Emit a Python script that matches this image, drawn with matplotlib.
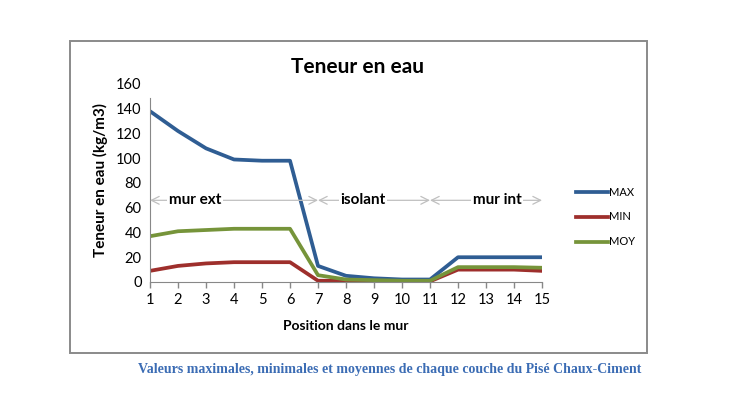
import matplotlib.pyplot as plt
from matplotlib.patches import Rectangle

plt.rcParams['font.family'] = ['Lato', 'DejaVu Sans']

# données
position = list(range(1, 16))
val_max = [138, 122, 108, 99, 98, 98, 13, 5, 3, 2, 2, 20, 20, 20, 20]
val_min = [9, 13, 15, 16, 16, 16, 1, 1, 0.5, 0.5, 0.5, 10, 10, 10, 9]
val_moy = [37, 41, 42, 43, 43, 43, 5.5, 2, 1.5, 1, 1, 12, 12, 12, 11.5]

couches = ["mur ext", "isolant", "mur int"]
limites = [1, 7, 11, 15]
pos_texte = [2.6, 8.6, 13.4]
y_fleche = 66

fig = plt.figure(figsize=(7.5, 3.96), dpi=100)
ax = fig.add_axes([0.2, 0.2879, 0.5227, 0.5])

ax.plot(position, val_max, color='#2f5d93', lw=2.7, label='MAX', solid_joinstyle='round')
ax.plot(position, val_min, color='#9e2f2c', lw=2.7, label='MIN', solid_joinstyle='round')
ax.plot(position, val_moy, color='#76943a', lw=2.7, label='MOY', solid_joinstyle='round')

# flèches des couches
for i in range(len(couches)):
    ax.annotate('', xy=(limites[i], y_fleche), xytext=(limites[i+1], y_fleche),
                arrowprops=dict(arrowstyle='<->', color='#c0c0c0', lw=0.9,
                                shrinkA=0, shrinkB=0, mutation_scale=14))
    ax.text(pos_texte[i], y_fleche, couches[i], ha='center', va='center',
            fontsize=11, fontweight='bold',
            bbox=dict(boxstyle='square,pad=0.1', fc='white', ec='none'))

ax.set_xlim(1, 15)
ax.set_ylim(0, 160)
ax.set_xticks(position)
ax.set_yticks(range(0, 161, 20))
ax.tick_params(axis='x', colors='#888888', length=4, width=1, labelcolor='black',
               labelsize=10.5, pad=4)
ax.tick_params(axis='y', length=0, labelsize=10.5, pad=6)
for s in ['top', 'right']:
    ax.spines[s].set_visible(False)
ax.spines['left'].set_color('#888888')
ax.spines['bottom'].set_color('#888888')
ax.spines['left'].set_bounds(0, 149)

fig.text(0.477, 0.831, 'Teneur en eau', ha='center', va='center',
         fontsize=15, fontweight='bold')
fig.text(0.134, 0.545, 'Teneur en eau (kg/m3)', ha='center', va='center',
         rotation=90, fontsize=11, fontweight='bold')
fig.text(0.4613, 1 - 326 / 396, 'Position dans le mur', ha='center', va='center',
         fontsize=10, fontweight='bold')

fig.legend(loc='center left', bbox_to_anchor=(566 / 750, 1 - 217 / 396),
           frameon=False, fontsize=8, labelspacing=1.25, handlelength=2.9,
           handletextpad=0.1)

fig.patches.append(Rectangle((70 / 750, 1 - 353 / 396), 577 / 750, 312 / 396,
                             transform=fig.transFigure, fill=False,
                             ec='#8a8a8a', lw=1.4))

fig.text(0.52, 1 - 370 / 396,
         'Valeurs maximales, minimales et moyennes de chaque couche du Pisé Chaux-Ciment',
         ha='center', va='center', fontsize=10, fontweight='bold',
         family='Liberation Serif', color='#3b6cb4')

fig.savefig('out.png', dpi=100)
